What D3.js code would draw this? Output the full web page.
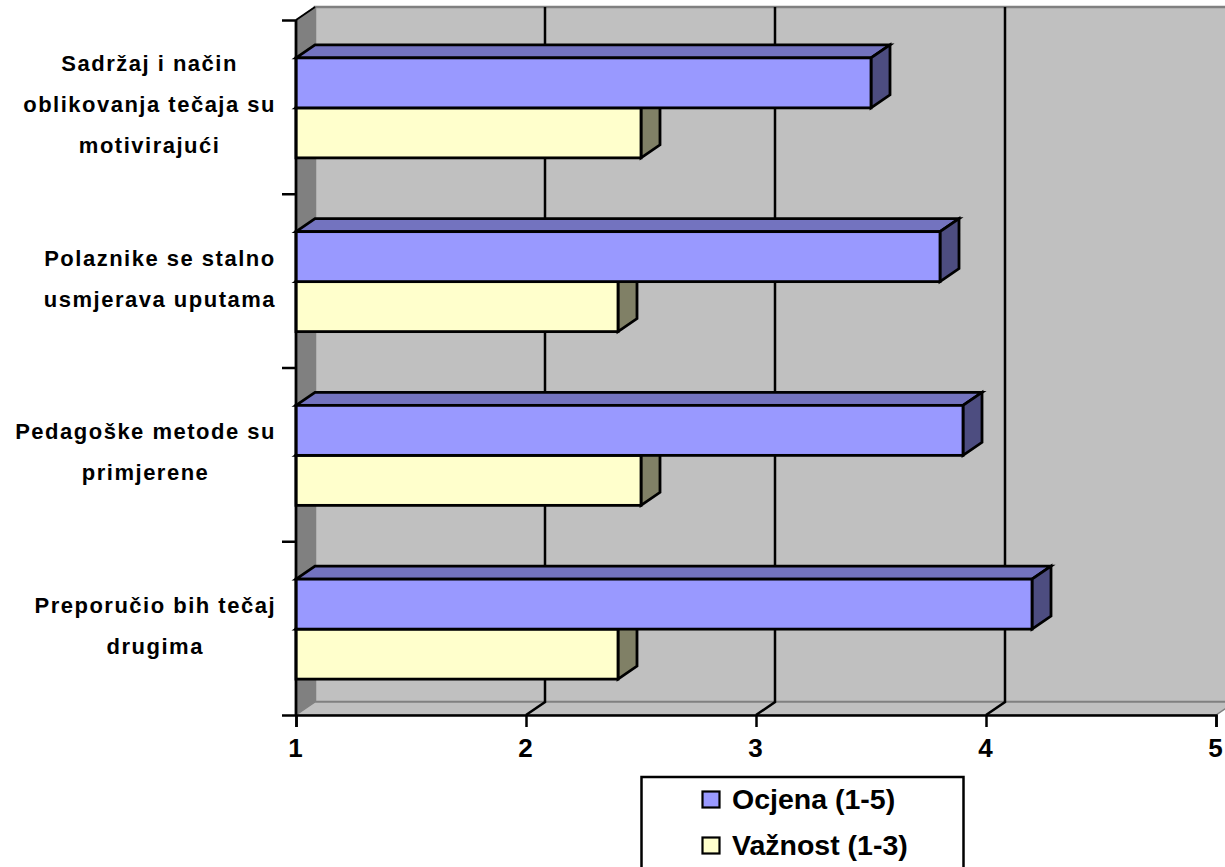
<!DOCTYPE html>
<html>
<head>
<meta charset="utf-8">
<script src="https://cdn.jsdelivr.net/npm/d3@7"></script>
<style>
html, body { margin: 0; padding: 0; background: #fff; overflow: hidden; }
text { font-family: "Liberation Sans", Arial, sans-serif; font-weight: bold; fill: #000; }
</style>
</head>
<body>
<div id="chart"></div>
<script>
// categories top to bottom, each split in the lines it is printed on
var categories = ["a", "b", "c", "d"];
var categoryLines = [
    ["Sadržaj i način", "oblikovanja tečaja su", "motivirajući"],
    ["Polaznike se stalno", "usmjerava uputama"],
    ["Pedagoške metode su", "primjerene"],
    ["Preporučio bih tečaj", "drugima"]
];
var ocjena = [3.5, 3.8, 3.9, 4.2];
var vaznost = [2.5, 2.4, 2.5, 2.4];
var xTicks = [1, 2, 3, 4, 5];
var seriesNames = ["Ocjena (1-5)", "Važnost (1-3)"];

var w = 1225, h = 867;
var depthX = 19, depthY = -13;   // the fake 3d offset of the back wall

var svg = d3.select("#chart").append("svg")
    .attr("width", w)
    .attr("height", h)
    .style("display", "block");

var x = d3.scaleLinear().domain([1, 5]).range([296, 1216]);
var yAxisScale = d3.scaleBand().domain(categories).range([20, 715]);
var y = d3.scaleBand().domain(categories).range([21, 716]).paddingInner(0.4245).paddingOuter(0.21225);
var ySeries = d3.scaleBand().domain([0, 1]).range([0, y.bandwidth()]);

function poly(points, fill, stroke, sw)
{
    return svg.append("polygon")
        .attr("points", points.map(function(p){ return p.join(","); }).join(" "))
        .attr("fill", fill)
        .attr("stroke", stroke)
        .attr("stroke-width", sw)
        .attr("stroke-linejoin", "miter");
}

// walls
var top0 = 20, bot0 = 715;
poly([[x(1) + depthX, top0 + depthY], [x(5) + depthX, top0 + depthY], [x(5) + depthX, bot0 + depthY], [x(1) + depthX, bot0 + depthY]], "#c0c0c0", "#808080", 2.5);
poly([[x(1), top0], [x(1) + depthX, top0 + depthY], [x(1) + depthX, bot0 + depthY], [x(1), bot0]], "#808080", "#808080", 1);
poly([[x(1), bot0], [x(1) + depthX, bot0 + depthY], [x(5) + depthX, bot0 + depthY], [x(5), bot0]], "#c0c0c0", "#808080", 1.5);

// gridlines on the back wall with the short slanted piece on the floor
svg.append("g").selectAll("path").data([2, 3, 4]).enter().append("path")
    .attr("d", function(d){
        return "M" + (x(d) + depthX) + "," + (top0 + depthY) +
            "V" + (bot0 + depthY) + "L" + x(d) + "," + bot0;
    })
    .attr("fill", "none")
    .attr("stroke", "#000")
    .attr("stroke-width", 2.5);

svg.append("path")
    .attr("d", "M" + x(1) + "," + top0 + "L" + (x(1) + depthX) + "," + (top0 + depthY))
    .attr("stroke", "#000")
    .attr("stroke-width", 2);

function drawBars(values, seriesIndex, front, topFace, side)
{
    var g = svg.append("g");
    categories.forEach(function(c, i){
        var x0 = x(1), x1 = x(values[i]);
        var y0 = y(c) + ySeries(seriesIndex), y1 = y0 + ySeries.bandwidth();
        var sw = 2.8;
        poly([[x0, y0], [x0 + depthX, y0 + depthY], [x1 + depthX, y0 + depthY], [x1, y0]], topFace, "#000", sw);
        poly([[x1, y0], [x1 + depthX, y0 + depthY], [x1 + depthX, y1 + depthY], [x1, y1]], side, "#000", sw);
        g.node().parentNode.appendChild(g.node());
        g.append("rect")
            .attr("x", x0)
            .attr("y", y0)
            .attr("width", x1 - x0)
            .attr("height", y1 - y0)
            .attr("fill", front)
            .attr("stroke", "#000")
            .attr("stroke-width", sw);
    });
}

// second series first, the blue one sits on top of it
drawBars(vaznost, 1, "#ffffcc", "#808066", "#808066");
drawBars(ocjena, 0, "#9999ff", "#7373bf", "#4d4d80");

// axes
var xAxis = d3.axisBottom(x).tickValues(xTicks).tickSize(12).tickPadding(12).tickFormat(d3.format("d"));
var gx = svg.append("g").attr("transform", "translate(0," + bot0 + ")").call(xAxis);
gx.selectAll(".domain").attr("stroke", "#000").attr("stroke-width", 2.5);
gx.selectAll(".tick line").attr("stroke", "#000").attr("stroke-width", 2.5);
gx.selectAll(".tick text")
    .attr("font-size", 26)
    .attr("dx", -1)
    .style("font-family", '"Liberation Sans", Arial, sans-serif')
    .style("font-weight", "bold");

var yTickValues = categories.map(function(c){ return yAxisScale(c); }).concat([bot0]);
var yTickScale = d3.scaleIdentity();
var yAxis = d3.axisLeft(yTickScale).tickValues(yTickValues).tickSize(14).tickFormat("");
var gy = svg.append("g").attr("transform", "translate(" + x(1) + ",0)").call(yAxis);
gy.selectAll(".domain").attr("d", "M0," + top0 + "V" + bot0).attr("stroke", "#000").attr("stroke-width", 2.8);
gy.selectAll(".tick line").attr("stroke", "#000").attr("stroke-width", 2.5);

// category labels, each block is centred on its widest line and ends at the same right edge
var labelRight = 276, lineStep = 41;
categories.forEach(function(c, i){
    var lines = categoryLines[i];
    var mid = yAxisScale(c) + yAxisScale.bandwidth() / 2 - 2;
    var t = svg.append("text")
        .attr("font-size", 22)
        .attr("letter-spacing", 1.5)
        .attr("text-anchor", "middle");
    lines.forEach(function(s, j){
        t.append("tspan")
            .attr("x", 0)
            .attr("y", mid + (j - (lines.length - 1) / 2) * lineStep + 7.5)
            .text(s);
    });
    var maxW = d3.max(t.selectAll("tspan").nodes(), function(n){ return n.getComputedTextLength(); });
    t.selectAll("tspan").attr("x", labelRight - maxW / 2);
});

// legend, the page cuts off its lower edge
svg.append("rect")
    .attr("x", 641.5)
    .attr("y", 777)
    .attr("width", 322)
    .attr("height", 110)
    .attr("fill", "#fff")
    .attr("stroke", "#000")
    .attr("stroke-width", 2.5);

var legendColors = ["#9999ff", "#ffffcc"];
var legendBase = d3.scalePoint().domain([0, 1]).range([809, 855]);
seriesNames.forEach(function(s, i){
    svg.append("rect")
        .attr("x", 702.5)
        .attr("y", legendBase(i) - 17.5)
        .attr("width", 17)
        .attr("height", 16)
        .attr("fill", legendColors[i])
        .attr("stroke", "#000")
        .attr("stroke-width", 2.2);
    svg.append("text")
        .attr("x", 732)
        .attr("y", legendBase(i))
        .attr("font-size", 28.5)
        .text(s);
});
</script>
</body>
</html>
